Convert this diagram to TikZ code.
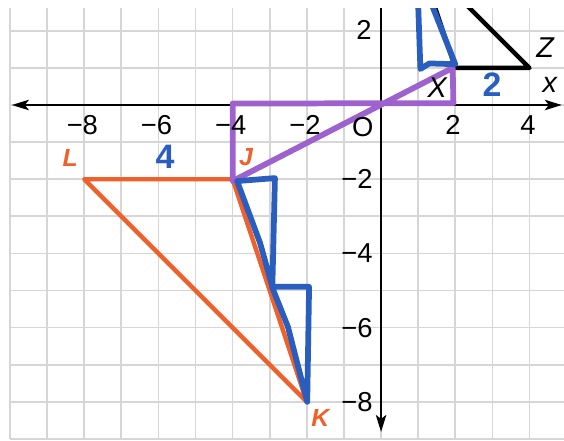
\documentclass[tikz,border=0pt]{standalone}
\usepackage{fontspec}
\setmainfont{Liberation Sans}
\usepackage{xcolor}
\definecolor{gorange}{RGB}{240,96,42}
\definecolor{gblue}{RGB}{42,94,190}
\definecolor{gpurple}{RGB}{158,98,206}
\definecolor{ggrid}{RGB}{214,214,214}
\usetikzlibrary{arrows.meta}

\begin{document}
\begin{tikzpicture}[
  tick/.style={font=\fontsize{21}{24}\selectfont, inner sep=0pt},
  vtx/.style={font=\fontsize{19}{22}\selectfont\itshape\bfseries, text=gorange, inner sep=0pt},
  pt/.style={font=\fontsize{22}{24}\selectfont\itshape, inner sep=0pt},
  note/.style={font=\fontsize{26}{30}\selectfont\bfseries, text=gblue, inner sep=0pt},
  pen/.style={line width=4.4pt, line join=round, line cap=round}]
\useasboundingbox (-10.27,-9.03) rectangle (4.93,2.83);
\begin{scope}
\clip (-10.27,-9.03) rectangle (4.93,2.61);
% grid
\draw[ggrid, line width=1.3pt] (-10,-9) grid (4.93,2.61);
% axes
\draw[line width=1.5pt, {Stealth[length=13pt, width=8pt, inset=3pt]}-{Stealth[length=13pt, width=8pt, inset=3pt]}] (-9.95,0) -- (4.87,0);
\draw[line width=1.5pt, -{Stealth[length=13pt, width=8pt, inset=3pt]}] (0,3) -- (0,-8.81);
% triangles
\coordinate (L) at (-8,-2);
\coordinate (J) at (-4,-2);
\coordinate (K) at (-2,-8);
\coordinate (X) at (2,1);
\coordinate (Z) at (4,1);
\coordinate (Y) at (1,4);
\draw[gorange, line width=3.4pt, line join=round] (L) -- (J) -- (K) -- cycle;
\draw[black, line width=3.4pt, line join=round] (X) -- (Z) -- (Y) -- cycle;
% hand marks
\draw[pen, gpurple] (-4,-2.05) -- (-4,0.04) -- (1.95,0.05) -- (1.93,1.0) -- cycle;
\draw[pen, gblue] (0.99,3.0) -- (1.06,0.97) -- (1.3,1.12) -- (2.0,1.1) -- (1.25,3.0);
\draw[pen, gblue] (-3.88,-2.05) -- (-2.86,-1.97) -- (-2.93,-4.9) -- (-3.26,-3.72) -- cycle;
\draw[pen, gblue] (-2.94,-4.9) -- (-1.94,-4.9) -- (-1.99,-8.0) -- (-2.51,-5.98) -- cycle;
\end{scope}
% labels
\foreach \x/\t in {-8/8,-6/6,-4/4,-2/2}
  \node[tick] (xt\t) at (\x-0.05,-0.55) {−\t};
\node[tick] (xp2) at (1.94,-0.55) {2};
\node[tick] (xp4) at (3.96,-0.55) {4};
\node[tick] (org) at (-0.49,-0.59) {O};
\node[tick, anchor=east] (yp2) at (-0.25,2.02) {2};
\foreach \y in {2,4,6,8}
  \node[tick, anchor=east] (yt\y) at (-0.22,-\y) {−\y};
\node[pt] (xlbl) at (4.55,0.54) {x};
\node[vtx] (Ll) at (-8.38,-1.43) {L};
\node[vtx] (Jl) at (-3.64,-1.4) {J};
\node[vtx] (Kl) at (-1.64,-8.44) {K};
\node[pt] (Xl) at (1.51,0.46) {X};
\node[pt] (Zl) at (4.42,1.54) {Z};
\node[note] (four) at (-5.82,-1.4) {4};
\node[note] (two) at (2.99,0.54) {2};
\end{tikzpicture}
\end{document}
